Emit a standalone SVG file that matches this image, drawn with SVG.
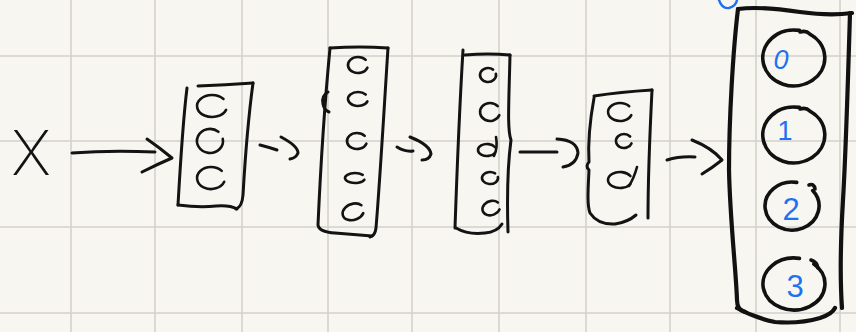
<svg xmlns="http://www.w3.org/2000/svg" width="856" height="332" viewBox="0 0 856 332">
  <defs>
    <style>
      .paper { fill: #f8f6f1; }
      .grid line { stroke: #d5d1cb; stroke-width: 1.6; }
      .ink { fill: none; stroke: #131313; stroke-width: 3; stroke-linecap: round; stroke-linejoin: round; }
      .unit { fill: none; stroke: #131313; stroke-width: 2.6; stroke-linecap: round; stroke-linejoin: round; }
      .ring { fill: none; stroke: #111; stroke-width: 3.6; stroke-linecap: round; stroke-linejoin: round; }
      .heavy { fill: none; stroke: #111; stroke-width: 4.2; stroke-linecap: round; stroke-linejoin: round; }
      .blue { fill: none; stroke: #1c72f2; stroke-width: 2.4; stroke-linecap: round; }
      .label { font-family: "Liberation Sans", "DejaVu Sans", sans-serif; fill: #1c72f2; text-anchor: middle; }
      .input { font-family: "Inter", "Liberation Sans", sans-serif; font-weight: 200; fill: #131313; font-size: 62px; text-anchor: middle; }
    </style>
  </defs>

  <!-- squared paper -->
  <rect class="paper" x="0" y="0" width="856" height="332"/>
  <g class="grid">
    <line x1="71" y1="0" x2="71" y2="332"/>
    <line x1="155" y1="0" x2="155" y2="332"/>
    <line x1="242" y1="0" x2="242" y2="332"/>
    <line x1="328" y1="0" x2="328" y2="332"/>
    <line x1="412" y1="0" x2="412" y2="332"/>
    <line x1="499" y1="0" x2="499" y2="332"/>
    <line x1="586" y1="0" x2="586" y2="332"/>
    <line x1="670" y1="0" x2="670" y2="332"/>
    <line x1="756" y1="0" x2="756" y2="332"/>
    <line x1="840" y1="0" x2="840" y2="332"/>
    <line x1="0" y1="56" x2="856" y2="56"/>
    <line x1="0" y1="141" x2="856" y2="141"/>
    <line x1="0" y1="227" x2="856" y2="227"/>
    <line x1="0" y1="313" x2="856" y2="313"/>
  </g>

  <!-- input -->
  <g id="input-x">
    <text class="input" x="31" y="175">X</text>
  </g>

  <!-- hidden layer 1: three units -->
  <g id="layer-1">
    <path class="ink" d="M198,86 Q225,85 253,83"/>
    <path class="ink" d="M187,88 C183,120 180,170 178,205"/>
    <path class="ink" d="M253,83 C248,120 245,160 243,195 Q242,207 236,209"/>
    <path class="ink" d="M178,205 Q200,208 216,206 Q230,205 237,209"/>
    <path class="unit" d="M223.5,98.9 A15 11 0 1 0 226.1,109.8"/>
    <path class="unit" d="M218.4,131.8 A13 12 0 1 0 222.8,138.9"/>
    <path class="unit" d="M221.7,170.9 A14 11 0 1 0 224.2,181.8"/>
  </g>

  <!-- hidden layer 2: five units -->
  <g id="layer-2">
    <path class="ink" d="M330,48 Q360,46 388,48"/>
    <path class="ink" d="M330,48 C325,100 320,180 318,225 Q319,232 335,233 L372,236"/>
    <path class="ink" d="M388,48 C384,110 380,180 376,228 Q375,236 370,237"/>
    <path class="ink" d="M328,92 Q321,96 323,104 Q324,110 329,112"/>
    <path class="unit" d="M365.7,59.9 A10 8 0 1 0 367.4,67.7"/>
    <path class="unit" d="M365.7,94.5 A10 7 0 1 0 367.4,101.4"/>
    <path class="unit" d="M364.7,135.9 A10 8 0 1 0 366.4,143.7"/>
    <path class="unit" d="M362.7,174.8 A10 5 0 1 0 364.4,179.7"/>
    <path class="unit" d="M361.4,205.2 A11 8 -20 1 0 363.3,213.1"/>
  </g>

  <!-- hidden layer 3: five units -->
  <g id="layer-3">
    <path class="ink" d="M463,50 C460,100 457,170 455,228"/>
    <path class="ink" d="M465,55 Q488,53 510,55"/>
    <path class="ink" d="M510,55 C509,100 507,130 511,140 C507,170 507,200 508,232"/>
    <path class="ink" d="M456,228 Q468,235 485,233 Q497,232 502,224"/>
    <path class="unit" d="M493.1,69.6 A8 7 0 1 0 495.9,73.8"/>
    <path class="unit" d="M497.7,106.2 A10 9 0 1 0 499.4,115.1"/>
    <path class="unit" d="M494.8,147 A9 6 0 1 0 494.8,153"/>
    <path class="unit" d="M496,137 Q498,148 494,156"/>
    <path class="unit" d="M495.1,173.4 A8 6 0 1 0 497.9,177"/>
    <path class="unit" d="M497.9,202.5 A9 7 -20 1 0 499.5,209.4"/>
  </g>

  <!-- hidden layer 4: three units -->
  <g id="layer-4">
    <path class="ink" d="M594,96 Q620,92 652,90"/>
    <path class="ink" d="M594,98 C590,120 588,145 589,162 Q585,166 589,170 C588,190 587,205 590,213 Q598,225 615,224 Q628,222 636,215"/>
    <path class="ink" d="M652,90 C650,130 648,180 648,218"/>
    <path class="unit" d="M629.2,106.2 A12 9 0 1 0 631.3,115.1"/>
    <path class="unit" d="M630.1,136.5 A8 7 0 1 0 631.5,143.4"/>
    <path class="unit" d="M630.4,176 A12 8 0 1 0 630.4,184"/>
    <path class="unit" d="M637,167 Q634,178 629,186"/>
  </g>

  <!-- output layer: four labelled units -->
  <g id="output">
    <path class="blue" d="M719,0 Q722,9 729,8 Q736,6 737,0"/>
    <path class="heavy" d="M738,9 Q760,6 800,12 Q830,16 852,13"/>
    <path class="heavy" d="M738,9 C733,50 729,120 729,170 C730,220 736,270 737,300 Q737,310 745,312"/>
    <path class="heavy" d="M850,13 C848,80 846,150 843,200 C840,250 840,280 842,308"/>
    <path class="heavy" d="M737,308 Q755,318 775,322 Q800,324 820,318 Q832,314 835,308"/>
    <g id="out-0">
      <path class="ring" d="M799.4,30.4 A31 28 0 1 0 809.5,33.8 Q806,30 800,32"/>
      <text class="label" x="781" y="69" font-size="27" font-style="italic">0</text>
    </g>
    <g id="out-1">
      <path class="ring" d="M799.4,107.4 A31 28 0 1 0 809.5,110.8 Q806,107 800,109"/>
      <text class="label" x="785" y="140" font-size="27">1</text>
    </g>
    <g id="out-2">
      <path class="ring" d="M796.7,182.4 A27 24 0 1 0 812.7,190.6"/>
      <path class="ring" d="M809,185 Q814,183 815,189"/>
      <text class="label" x="791" y="220" font-size="31">2</text>
    </g>
    <g id="out-3">
      <path class="ring" d="M799.4,258.4 A31 26 0 1 0 813.9,264.1"/>
      <path class="ring" d="M811,260 Q817,262 818,268"/>
      <text class="label" x="795" y="297" font-size="31">3</text>
    </g>
  </g>

  <!-- connectors between layers -->
  <g id="connectors">
    <path class="ink" d="M72,153 Q110,150 155,152"/>
    <path class="ink" d="M147,139 Q160,148 172,158 Q158,164 142,172"/>
    <path class="ink" d="M260,145 Q268,147 277,150"/>
    <path class="ink" d="M281,137 Q298,146 298,153 Q296,158 290,159"/>
    <path class="ink" d="M397,147 Q405,152 413,151"/>
    <path class="ink" d="M410,137 Q430,145 431,154 Q429,160 422,160"/>
    <path class="ink" d="M520,152 L557,152"/>
    <path class="ink" d="M557,139 Q577,140 578,153 Q576,165 563,167"/>
    <path class="ink" d="M667,160 Q680,156 695,157"/>
    <path class="ink" d="M692,140 Q712,148 722,160 Q712,168 702,174"/>
  </g>
</svg>
